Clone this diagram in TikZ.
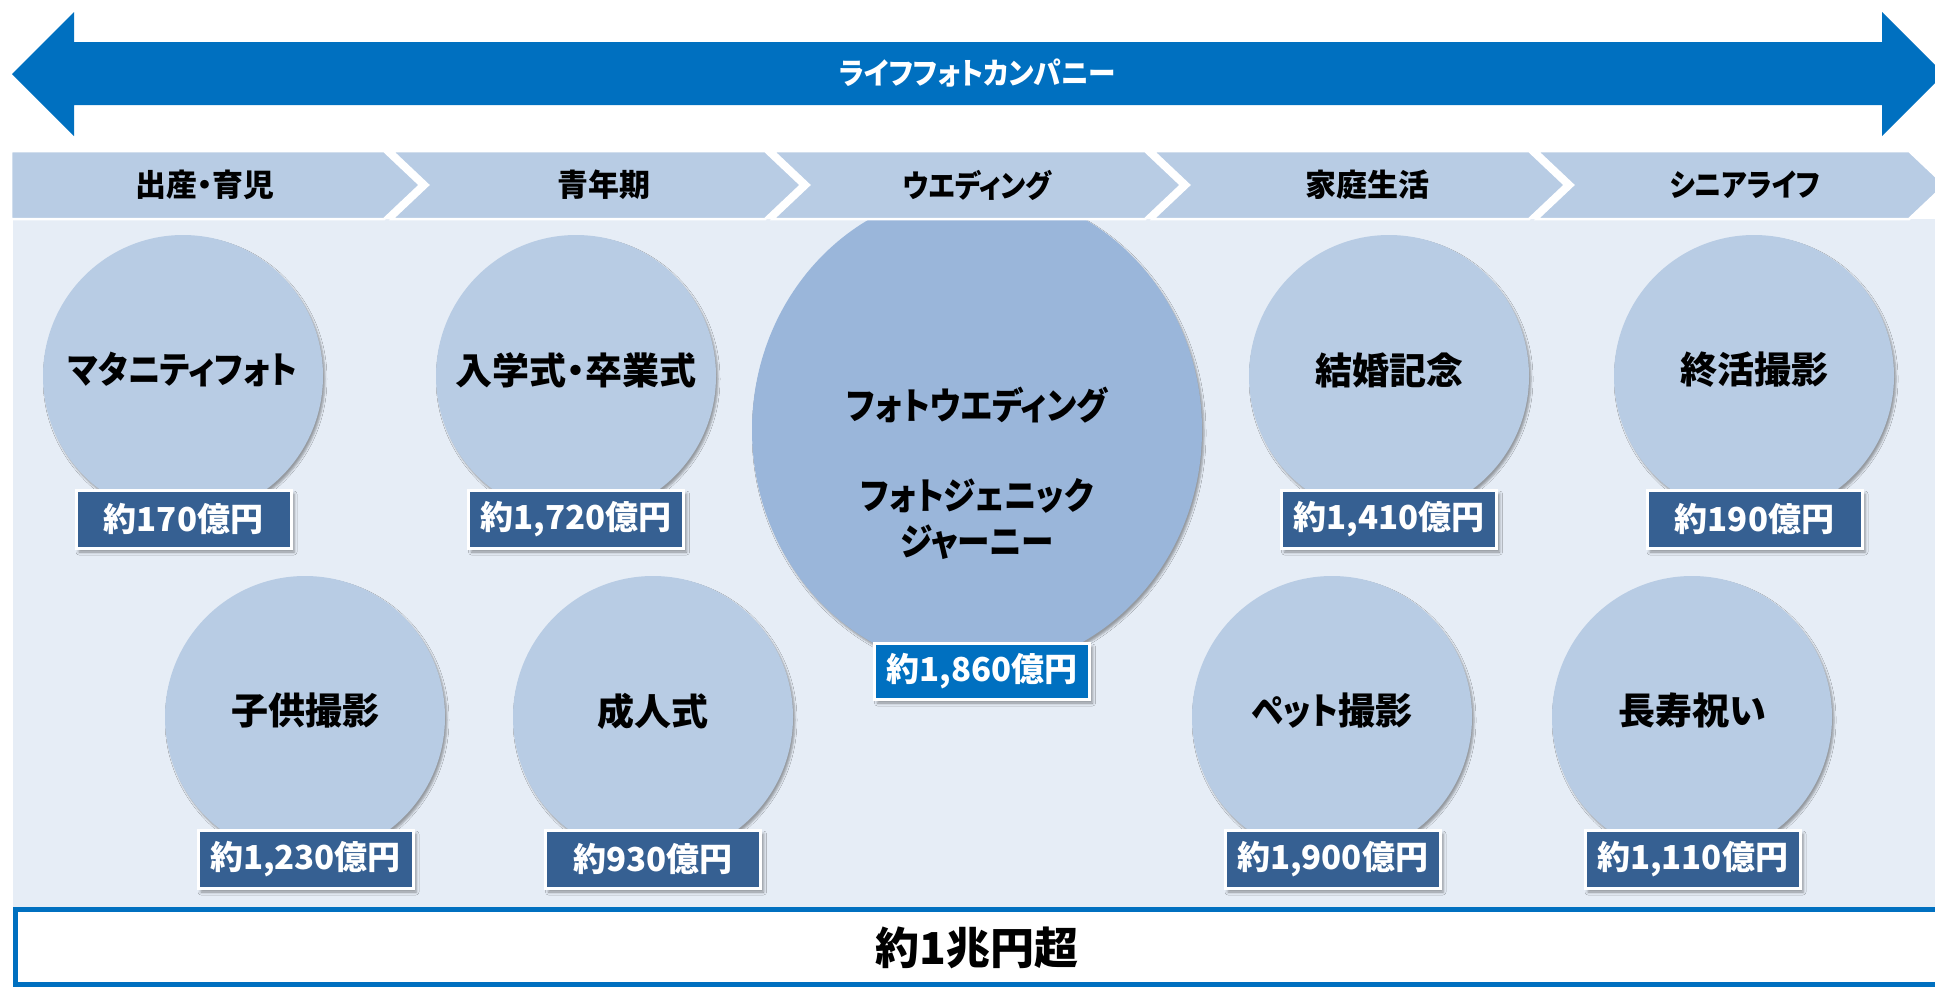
\documentclass[tikz,border=0pt]{standalone}
\usepackage{fontspec}
\newfontfamily\jp{Noto Sans CJK JP}[RawFeature={+palt}]
\newfontfamily\jpk{Noto Sans CJK JP}[RawFeature={+palt}, FakeStretch=0.88]
\usetikzlibrary{shapes.geometric,shadows.blur}
\definecolor{arrowblue}{HTML}{0070C0}
\definecolor{bandc}{HTML}{B8CCE4}
\definecolor{panelc}{HTML}{E6EDF6}
\definecolor{bubblec}{HTML}{B8CCE4}
\definecolor{centralc}{HTML}{9AB6DA}
\definecolor{labeldark}{HTML}{366092}
\tikzset{
  bandpart/.style={fill=bandc, draw=white, line width=2.5pt, line join=miter},
  bandtext/.style={font=\jp\bfseries\fontsize{31}{31}\selectfont, text=black, inner sep=0pt},
  bubble/.style={ellipse, fill=bubblec, minimum width=280pt, minimum height=282pt, inner sep=0pt,
    blur shadow={shadow xshift=2pt, shadow yshift=-3pt, shadow opacity=35, shadow blur radius=2pt}},
  bubbletext/.style={font=\jp\bfseries\fontsize{37}{46}\selectfont, text=black, inner sep=0pt, yshift=6pt},
  labelbox/.style={rectangle, fill=labeldark, draw=white, line width=3pt, minimum width=215pt,
    minimum height=58pt, inner sep=0pt, text=white, font=\jp\bfseries\fontsize{33}{33}\selectfont,
    blur shadow={shadow xshift=3pt, shadow yshift=-4pt, shadow opacity=40, shadow blur radius=3pt}},
}
\begin{document}
\begin{tikzpicture}[x=1pt,y=-1pt]
\useasboundingbox (0,0) rectangle (1935,986);
\fill[white] (0,0) rectangle (1935,986);
% big double arrow
\fill[arrowblue] (12,74) -- (74,12) -- (74,42) -- (1882,42) -- (1882,12) -- (1944,74)
  -- (1882,136) -- (1882,105) -- (74,105) -- (74,136) -- cycle;
\node[text=white, font=\jp\bfseries\fontsize{30}{30}\selectfont, inner sep=0pt] (title) at (977,73)
  {\addfontfeature{FakeStretch=0.92}ライフフォトカンパニー};
% panel
\fill[panelc] (13,219) rectangle (1935,907);
% small bubbles
\node[bubble, label={[bubbletext, name=t1]center:{\jpk マタニティフォト}}] (b1) at (183,376) {};
\node[bubble, label={[bubbletext, name=t2]center:入学式・卒業式}] (b2) at (576,376) {};
\node[bubble, label={[bubbletext, name=t4]center:結婚記念}] (b4) at (1389,376) {};
\node[bubble, label={[bubbletext, name=t5]center:終活撮影}] (b5) at (1754,376) {};
\node[bubble, label={[bubbletext, name=t6]center:子供撮影}] (b6) at (305,717) {};
\node[bubble, label={[bubbletext, name=t7]center:成人式}] (b7) at (653,717) {};
\node[bubble, label={[bubbletext, name=t8]center:{{\jpk ペット}撮影}}] (b8) at (1332,717) {};
\node[bubble, label={[bubbletext, name=t9]center:長寿祝い}] (b9) at (1692,717) {};
% central bubble
\node[bubble, fill=centralc, minimum width=450pt, minimum height=480pt] (b3) at (977,430) {};
\node[font=\jpk\bfseries\fontsize{37}{46}\selectfont, align=center, inner sep=0pt] (b3t) at (977,473)
  {フォトウエディング\\[44pt]フォトジェニック\\ジャーニー};
% band of chevrons
\filldraw[bandpart] (11,151) -- (384,151) -- (420,185) -- (384,219) -- (11,219) -- cycle;
\filldraw[bandpart] (392,151) -- (765,151) -- (801,185) -- (765,219) -- (392,219) -- (428,185) -- cycle;
\filldraw[bandpart] (773,151) -- (1145,151) -- (1181,185) -- (1145,219) -- (773,219) -- (809,185) -- cycle;
\filldraw[bandpart] (1153,151) -- (1529,151) -- (1565,185) -- (1529,219) -- (1153,219) -- (1189,185) -- cycle;
\filldraw[bandpart] (1537,151) -- (1909,151) -- (1945,185) -- (1909,219) -- (1537,219) -- (1573,185) -- cycle;
\node[bandtext] (s1) at (205,185) {出産・育児};
\node[bandtext] (s2) at (604,185) {青年期};
\node[bandtext, font=\jpk\bfseries\fontsize{31}{31}\selectfont] (s3) at (977,185) {ウエディング};
\node[bandtext] (s4) at (1367,185) {家庭生活};
\node[bandtext, font=\jpk\bfseries\fontsize{31}{31}\selectfont] (s5) at (1745,185) {シニアライフ};
% value labels
\node[labelbox] (v1) at (183.5,519) {約170億円};
\node[labelbox] (v2) at (576,519) {約1,720億円};
\node[labelbox, fill=arrowblue, minimum height=56pt] (v3) at (982,671) {約1,860億円};
\node[labelbox] (v4) at (1389,519) {約1,410億円};
\node[labelbox] (v5) at (1754.5,519) {約190億円};
\node[labelbox] (v6) at (305.5,859) {約1,230億円};
\node[labelbox] (v7) at (653,859) {約930億円};
\node[labelbox] (v8) at (1332.5,859) {約1,900億円};
\node[labelbox] (v9) at (1692.5,859) {約1,110億円};
% total box
\draw[arrowblue, fill=white, line width=5pt] (15.5,909.5) rectangle (1950,984);
\node[font=\jp\bfseries\fontsize{44}{44}\selectfont, inner sep=0pt] (total) at (977,948) {約1兆円超};
\end{tikzpicture}
\end{document}
